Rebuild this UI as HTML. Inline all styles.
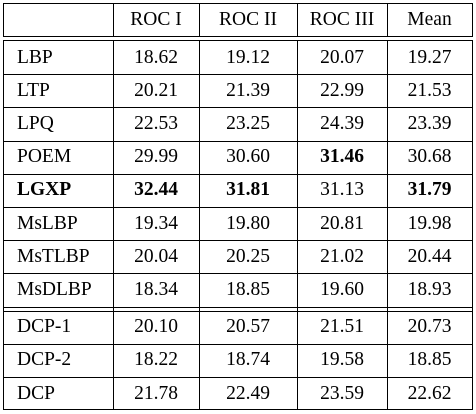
<!DOCTYPE html>
<html><head><meta charset="utf-8"><style>
body{margin:0;width:476px;height:414px;background:#fff;position:relative;overflow:hidden;font-family:"Liberation Serif",serif;font-size:19.5px;color:#000}
.h{position:absolute;left:3px;width:470px;height:1px;background:#000}
.v{position:absolute;width:1px;background:#000}
.c{position:absolute;text-align:center;line-height:22px;white-space:nowrap}
.l{text-align:left;padding-left:14px;box-sizing:border-box}
b{font-weight:bold}
</style></head><body>
<script>
const methods=["LBP","LTP","LPQ","POEM","LGXP","MsLBP","MsTLBP","MsDLBP","DCP-1","DCP-2","DCP"];
const headers=["","ROC I","ROC II","ROC III","Mean"];
const values=[
["18.62","19.12","20.07","19.27"],["20.21","21.39","22.99","21.53"],["22.53","23.25","24.39","23.39"],
["29.99","30.60","31.46","30.68"],["32.44","31.81","31.13","31.79"],["19.34","19.80","20.81","19.98"],
["20.04","20.25","21.02","20.44"],["18.34","18.85","19.60","18.93"],["20.10","20.57","21.51","20.73"],
["18.22","18.74","19.58","18.85"],["21.78","22.49","23.59","22.62"]];
const bold=[[3,2],[4,-1],[4,0],[4,1],[4,3]];
const xs=[3,113,199,297,387,472];
const rowH=33.2;
const body=document.body;
function line(cls,x,y,w,h,name){const d=document.createElement('div');d.className=cls;d.style.left=x+'px';d.style.top=y+'px';if(w)d.style.width=w+'px';if(h)d.style.height=h+'px';


body.appendChild(d);}
function cell(txt,x0,x1,yc,b,left,name){const d=document.createElement('div');d.className='c'+(left?' l':'');d.style.left=x0+'px';d.style.width=(x1-x0)+'px';d.style.top=(yc-11)+'px';d.innerHTML=b?'<b>'+txt+'</b>':txt;


body.appendChild(d);}
const tops=[];let y=41;
for(let i=0;i<methods.length;i++){if(i==8)y+=4;tops.push(y);y+=rowH;}
const bottom=y;
line('h',3,3,470,1,'top-border');
line('h',3,36,470,1,'header-rule');
line('h',3,40,470,1,'header-rule-2');
for(let i=1;i<methods.length;i++){line('h',3,Math.round(tops[i]),470,1,'row-rule');}
line('h',3,Math.round(tops[8])-4,470,1,'group-rule');
line('h',3,Math.round(bottom)-1,470,1,'bottom-border');
for(let k=0;k<xs.length;k++){line('v',xs[k],3,1,34,'col-rule');line('v',xs[k],40,1,Math.round(bottom)-40,'col-rule');}
for(let k=1;k<headers.length;k++)cell(headers[k],xs[k],xs[k+1],20,false,false,'header-'+headers[k].toLowerCase().replace(/ /g,'-'));
methods.forEach((m,i)=>{const yc=tops[i]+rowH/2;
cell(m,xs[0],xs[1],yc,i==4,true,'method-'+m.toLowerCase());
values[i].forEach((v,j)=>{const isB=bold.some(b=>b[0]==i&&b[1]==j);cell(v,xs[j+1],xs[j+2],yc,isB,false,'cell-'+m.toLowerCase()+'-'+j);});});
</script>
</body></html>
